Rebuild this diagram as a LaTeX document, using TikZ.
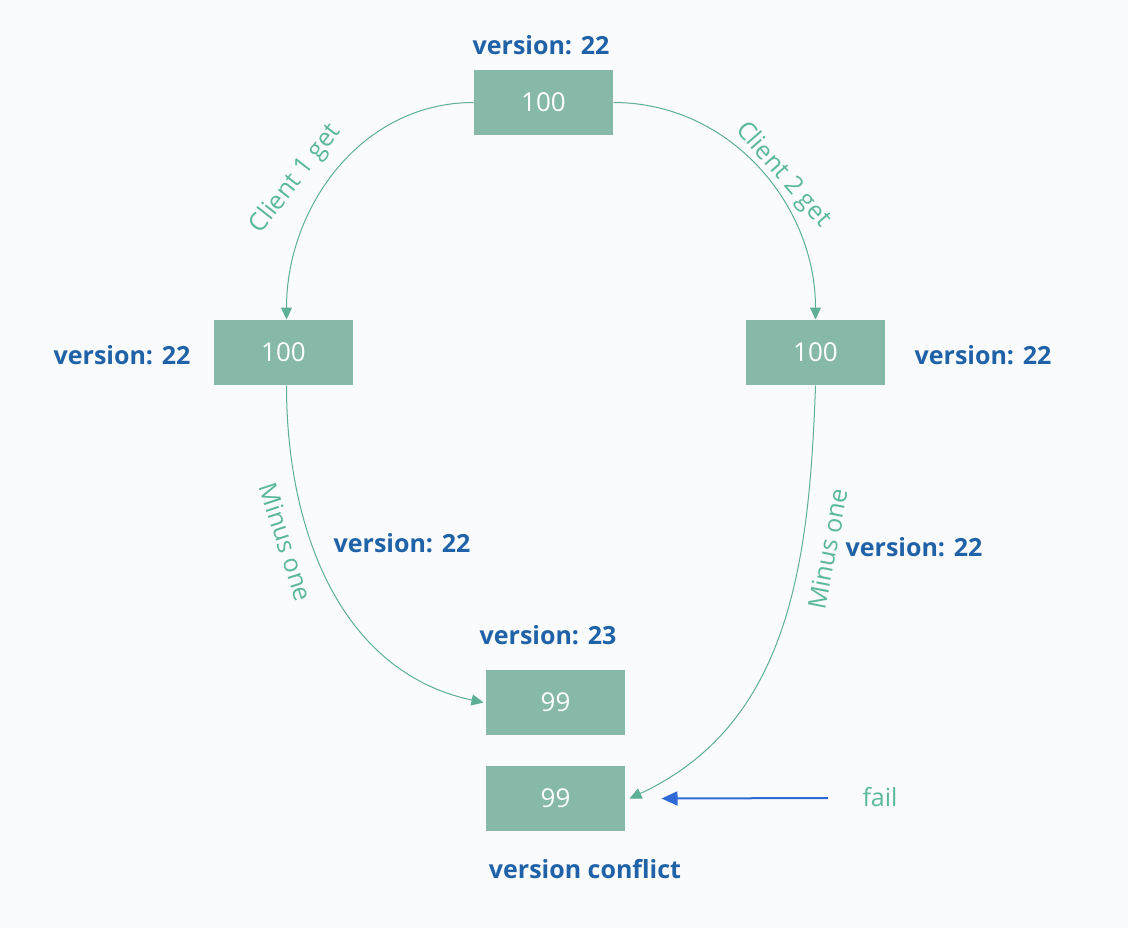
\documentclass[tikz,border=0pt]{standalone}
\usepackage{fontspec}
\setmainfont{Open Sans}
\usetikzlibrary{arrows.meta}
\definecolor{boxgreen}{HTML}{86B9A7}
\definecolor{linegreen}{HTML}{5EAF98}
\definecolor{labelgreen}{HTML}{5BB89B}
\definecolor{verblue}{HTML}{1F62A7}
\definecolor{failblue}{HTML}{2E6BD6}
\definecolor{paper}{HTML}{FAFBFC}

\begin{document}
\begin{tikzpicture}[x=0.5pt,y=-0.5pt,->,draw=linegreen,line width=0.5pt]
    \tikzstyle{every edge}=[draw=linegreen,line width=0.5pt]
    \tikzstyle{value box}=[rectangle,fill=boxgreen,minimum width=69.5pt,minimum height=32.5pt,inner sep=0pt,text=white,font=\fontsize{13}{15}\selectfont]
    \tikzstyle{version}=[text=verblue,font=\fontsize{12.5}{15}\selectfont\bfseries]
    \tikzstyle{action}=[text=labelgreen,font=\fontsize{12.5}{15}\selectfont]
    \tikzstyle{tip}=[-{Triangle[length=6pt,width=5.5pt]}]

    % Background and page size
    \fill[paper] (0,0) rectangle (1128,928);

    % Draw the value boxes
    \node[value box] (V-top) at (543.5,102.5) {100};
    \node[value box] (V-1) at (283.5,352.5) {100};
    \node[value box] (V-2) at (815.5,352.5) {100};
    \node[value box] (R-1) at (555.5,702.5) {99};
    \node[value box] (R-2) at (555.5,798.5) {99};

    % Version annotations
    \node[version] (ver-top) at (541,45) {version: 22};
    \node[version] (ver-1) at (122,355) {version: 22};
    \node[version] (ver-2) at (983,355) {version: 22};
    \node[version] (ver-1b) at (402,543) {version: 22};
    \node[version] (ver-2b) at (914,547) {version: 22};
    \node[version] (ver-new) at (548,635) {version: 23};
    \node[version] (ver-conflict) at (585,869) {version conflict};

    % Both clients read the value
    \draw[tip] (V-top.west) to[out=180,in=90] ([xshift=1.5pt]V-1.north);
    \draw[tip] (V-top.east) to[out=0,in=90] (V-2.north);
    \node[action,rotate=52] (get-1) at (296,179) {Client 1 get};
    \node[action,rotate=-49] (get-2) at (783,175) {Client 2 get};

    % Both clients write back
    \draw[tip] ([xshift=1.5pt]V-1.south) to[out=-90,in=168] ([xshift=-1pt]R-1.west);
    \draw[tip] (V-2.south) to[out=-92,in=25] ([xshift=2pt]R-2.east);
    \node[action,rotate=-72] (minus-1) at (286,542) {Minus one};
    \node[action,rotate=79] (minus-2) at (828,549) {Minus one};

    % The second write fails
    \node[action] (fail) at (880,797) {fail};
    \coordinate (fail-end) at (828,798);
    \draw[draw=failblue,line width=1pt,-{Triangle[length=8pt,width=7pt]}] (fail-end) -- ([xshift=18pt]R-2.east);
\end{tikzpicture}
\end{document}
